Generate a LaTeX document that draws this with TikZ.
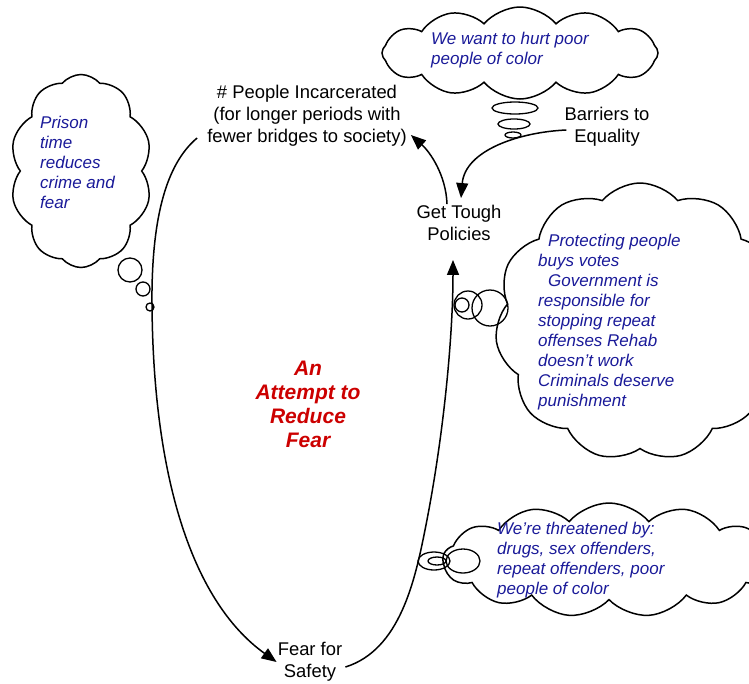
\documentclass[tikz,border=0pt]{standalone}
\usepackage{fontspec}
\setmainfont{Liberation Sans}
\usetikzlibrary{shapes.symbols,arrows.meta}
\definecolor{thought}{RGB}{26,26,153}
\definecolor{loopred}{RGB}{204,0,0}
\begin{document}
\begin{tikzpicture}[x=1pt,y=-1pt,
  var/.style={font=\fontsize{18.4}{22}\selectfont, align=center, inner sep=1pt},
  idea/.style={font=\fontsize{17}{20}\selectfont\itshape, text=thought, align=left, inner sep=0pt, anchor=west},
  puff/.style={cloud, draw, fill=white, line width=1.5pt, cloud ignores aspect, cloud puff arc=100, inner sep=0pt},
  bubble/.style={draw, line width=1.3pt},
  link/.style={draw, line width=1.5pt, -{Triangle[length=15pt,width=12pt]}},
]
\useasboundingbox (0,0) rectangle (749,683);
\clip (0,0) rectangle (749,683);

% clouds
\node[puff, cloud puffs=12, minimum width=276pt, minimum height=92pt] (c1) at (520,53) {};
\node[puff, cloud puffs=10, minimum width=142pt, minimum height=193pt] (c2) at (81,171) {};
\node[puff, cloud puffs=11, minimum width=290pt, minimum height=278pt] (c3) at (640,322) {};
\node[puff, cloud puffs=13, minimum width=332pt, minimum height=114pt] (c4) at (609,560) {};

% cloud texts
\node[idea] (t1) at (431,50) {We want to hurt poor\\people of color};
\node[idea] (t2) at (40,162) {Prison\\time\\reduces\\crime and\\fear};
\node[idea] (t3) at (538,322) {\hspace{10pt}Protecting people\\buys votes\\\hspace{10pt}Government is\\responsible for\\stopping repeat\\offenses Rehab\\doesn’t work\\Criminals deserve\\punishment};
\node[idea] (t4) at (497,560) {We’re threatened by:\\drugs, sex offenders,\\repeat offenders, poor\\people of color};

% thought bubbles
\draw[bubble] (515,108) ellipse [x radius=23pt, y radius=6pt];
\draw[bubble] (514,124) ellipse [x radius=16pt, y radius=5pt];
\draw[bubble] (513,135) ellipse [x radius=8pt, y radius=3pt];

\draw[bubble] (130,270) circle [radius=12pt];
\draw[bubble] (143,289) circle [radius=7pt];
\draw[bubble] (150,307) circle [radius=4pt];

\draw[bubble] (490,308) circle [radius=18pt];
\draw[bubble] (468,305) circle [radius=14pt];
\draw[bubble] (462,305) circle [radius=7pt];

\draw[bubble] (463,561) ellipse [x radius=17pt, y radius=12pt];
\draw[bubble] (434,561) ellipse [x radius=16pt, y radius=9pt];
\draw[bubble] (437,561) ellipse [x radius=9pt, y radius=4pt];

% variables
\node[var] (inc) at (307,116) {\# People Incarcerated\\(for longer periods with\\fewer bridges to society)};
\node[var] (bar) at (607,127) {Barriers to\\Equality};
\node[var] (gt) at (459,223) {Get Tough\\Policies};
\node[var] (fear) at (310,662) {Fear for\\Safety};
\node[font=\fontsize{21}{24}\selectfont\bfseries\itshape, text=loopred, align=center, inner sep=0pt] (title) at (308,404) {An\\Attempt to\\Reduce\\Fear};

% connectors
\draw[link] ([shift={(-9,22)}]inc.west) .. controls (165,165) and (153,220) .. (152,290)
  .. controls (151,470) and (190,600) .. (fear.west);
\draw[link] ([shift={(2,5)}]fear.east) .. controls (400,650) and (415,580) .. (425,530)
  .. controls (445,430) and (453,330) .. ([shift={(-6,18)}]gt.south);
\draw[link] ([shift={(-12,0)}]gt.north) .. controls (446,175) and (430,152) .. ([shift={(3,19)}]inc.east);
\draw[link] ([shift={(3,3)}]bar.west) .. controls (520,132) and (465,150) .. ([shift={(2,-6)}]gt.north);
\end{tikzpicture}
\end{document}
